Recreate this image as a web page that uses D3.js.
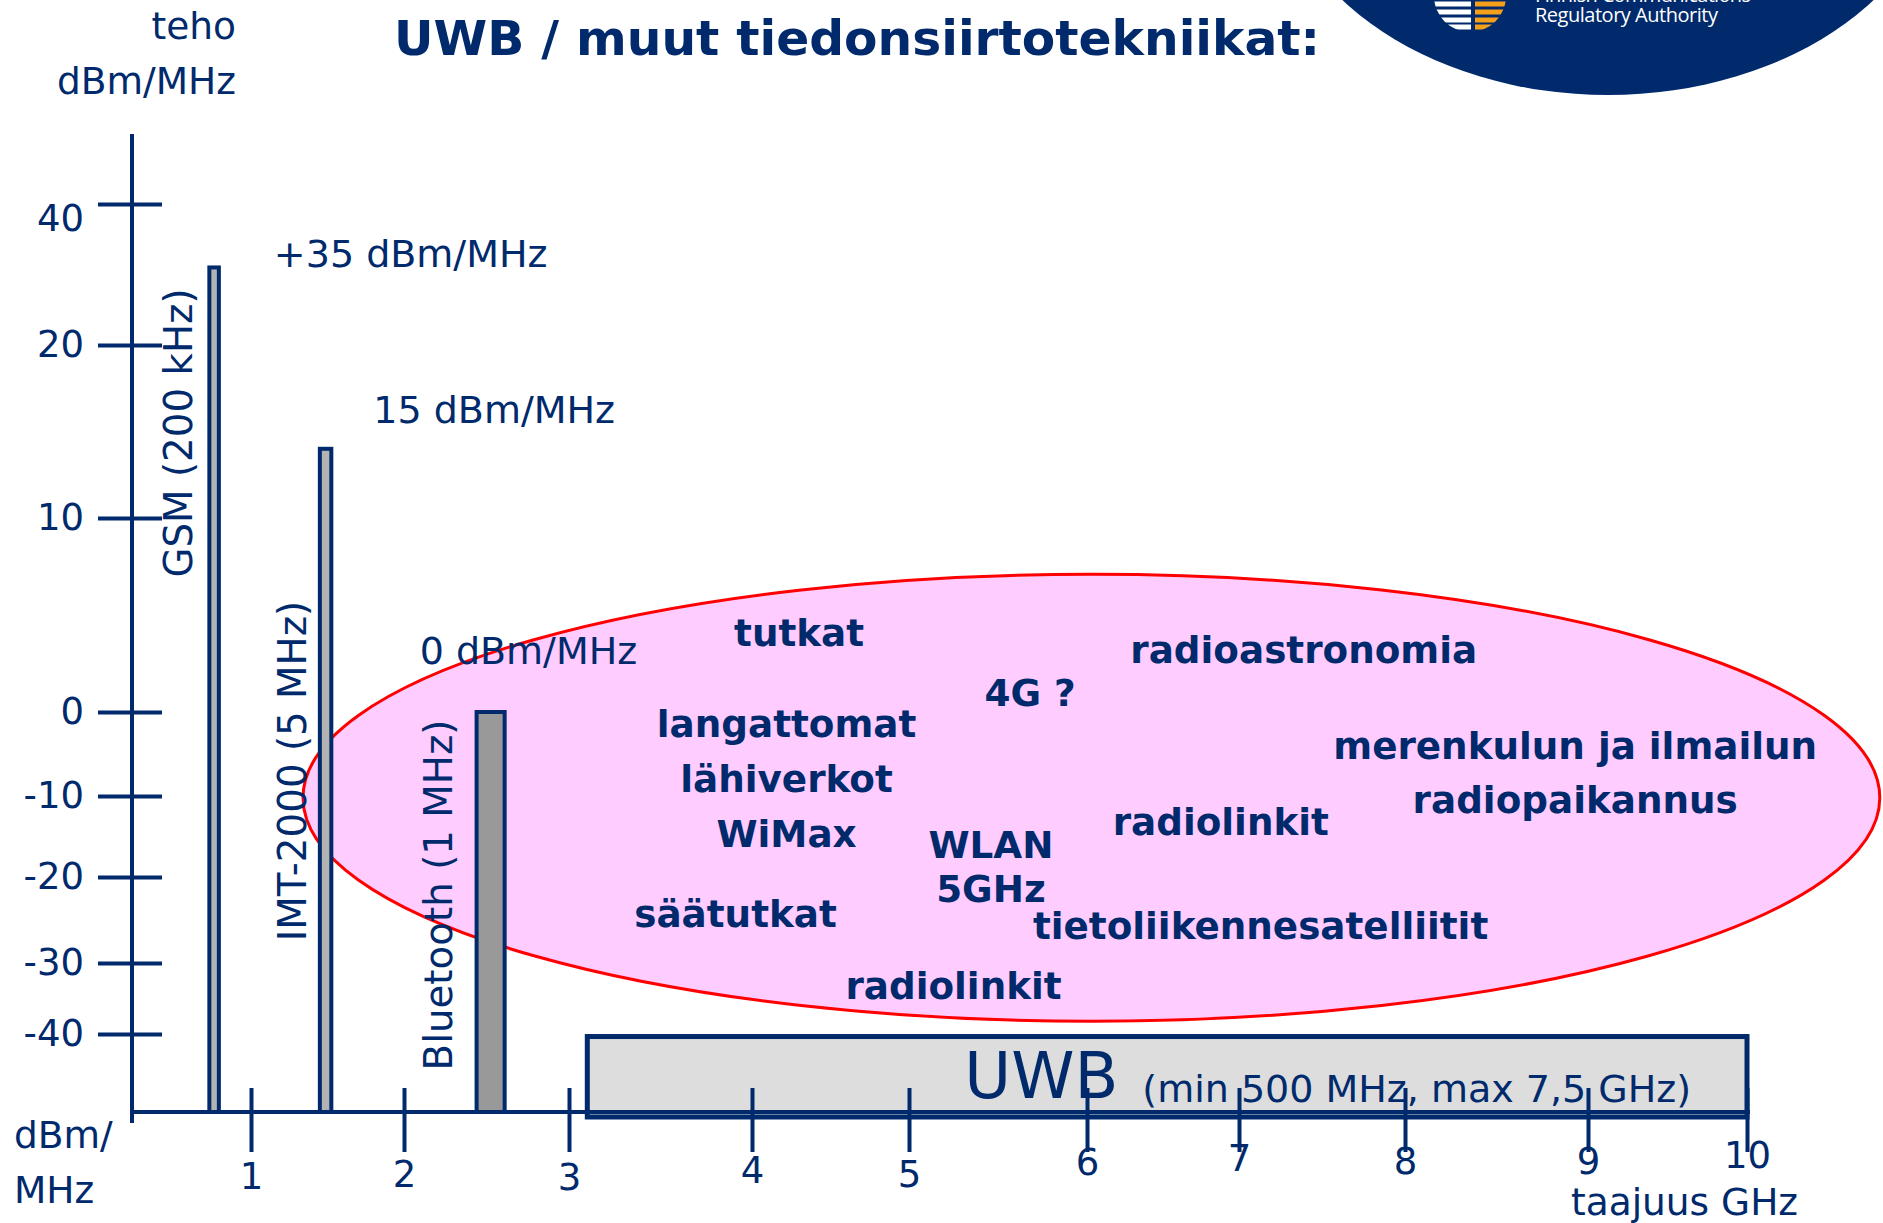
<!DOCTYPE html>
<html>
<head>
<meta charset="utf-8">
<script src="https://cdn.jsdelivr.net/npm/d3@7"></script>
<style>
  body { margin: 0; background: #fff; }
  svg { display: block; font-family: 'DejaVu Sans', Verdana, sans-serif; }
</style>
</head>
<body>
<svg id="drawing_region"></svg>
<script>
const navy = '#002a6c';

// akselit
const yTicks = [40, 20, 10, 0, -10, -20, -30, -40];
const xTicks = [1, 2, 3, 4, 5, 6, 7, 8, 9, 10];

// kapeakaistaiset järjestelmät
const bandNames = ['GSM (200 kHz)', 'IMT-2000 (5 MHz)', 'Bluetooth (1 MHz)'];
const bandLow = [0.65, 1.45, 2.44];
const bandHigh = [0.73, 1.525, 2.61];
const bandPower = [31, 14, 0];
const bandLevels = ['+35 dBm/MHz', '15 dBm/MHz', '0 dBm/MHz'];

// UWB
const uwbLow = 3.1, uwbHigh = 10, uwbPower = -41.3;

// muut käyttäjät samalla taajuusalueella
const zoneFreq = [1.34, 10.83];
const zonePower = [-38.2, 7.1];
const services = ['tutkat', 'radioastronomia', '4G ?', 'langattomat', 'lähiverkot',
    'merenkulun ja ilmailun', 'radiopaikannus', 'WiMax', 'WLAN', '5GHz', 'radiolinkit',
    'säätutkat', 'tietoliikennesatelliitit', 'radiolinkit'];
const serviceFreq = [4.30, 7.39, 5.68, 4.22, 4.22, 8.93, 8.93, 4.22, 5.46, 5.46, 6.88, 3.91, 7.13, 5.25];
const servicePower = [4.1, 3.2, 1.0, -1.4, -7.9, -4.0, -10.4, -14.6, -16.0, -21.3, -13.1, -24.3, -25.7, -33.2];

class uwbChart {

    constructor(config) {
        this.config = {
            parent: config.parent,
            width: config.width || 1883,
            height: config.height || 1223
        };
        this.init();
    }

    init() {
        let self = this;
        self.svg = d3.select(self.config.parent)
            .attr('width', self.config.width)
            .attr('height', self.config.height);

        // piirroksen asteikot eivät ole tasavälisiä
        self.xscale = d3.scaleLinear()
            .domain([0, 1, 2, 3, 4, 5, 6, 7, 8, 9, 10, 11])
            .range([132, 251, 404, 569, 752, 909, 1087, 1239, 1405, 1588, 1747, 1907]);
        self.yscale = d3.scaleLinear()
            .domain([-80, -40, -30, -20, -10, 0, 10, 20, 40, 44])
            .range([1112, 1034, 963, 877, 796, 712, 518, 345, 204, 134]);
    }

    render() {
        let self = this;
        const x = self.xscale, y = self.yscale;
        const base = y(-80);

        self.drawLogo();

        self.svg.append('text')
            .attr('x', 857).attr('y', 55)
            .attr('text-anchor', 'middle')
            .attr('font-size', 48.7).attr('font-weight', 'bold')
            .attr('fill', navy)
            .text('UWB / muut tiedonsiirtotekniikat:');

        // ellipsi
        self.svg.append('ellipse')
            .attr('cx', (x(zoneFreq[0]) + x(zoneFreq[1])) / 2)
            .attr('cy', (y(zonePower[0]) + y(zonePower[1])) / 2)
            .attr('rx', (x(zoneFreq[1]) - x(zoneFreq[0])) / 2)
            .attr('ry', (y(zonePower[0]) - y(zonePower[1])) / 2)
            .attr('fill', '#ffccff')
            .attr('stroke', '#ff0000')
            .attr('stroke-width', 3);

        self.svg.append('g').selectAll('text').data(services)
            .join('text')
            .attr('x', (d, i) => x(serviceFreq[i]))
            .attr('y', (d, i) => y(servicePower[i]))
            .attr('dy', '0.36em')
            .attr('text-anchor', 'middle')
            .attr('font-size', 37.3).attr('font-weight', 'bold')
            .attr('fill', navy)
            .text(d => d);

        // pylväät
        self.svg.append('g').selectAll('rect').data(bandNames)
            .join('rect')
            .attr('x', (d, i) => x(bandLow[i]))
            .attr('y', (d, i) => y(bandPower[i]))
            .attr('width', (d, i) => x(bandHigh[i]) - x(bandLow[i]))
            .attr('height', (d, i) => base - y(bandPower[i]))
            .attr('fill', (d, i) => i == 2 ? '#999999' : '#b3b3b3')
            .attr('stroke', navy)
            .attr('stroke-width', 4);

        const levelOffset = [[55, -14], [42, -39], [-85, -62]];
        self.svg.append('g').selectAll('text').data(bandLevels)
            .join('text')
            .attr('x', (d, i) => x(bandHigh[i]) + levelOffset[i][0])
            .attr('y', (d, i) => y(bandPower[i]) + levelOffset[i][1])
            .attr('dy', '0.36em')
            .attr('font-size', 38)
            .attr('fill', navy)
            .text(d => d);

        const nameLayout = [[-31, 433], [-28, 771], [-39, 895]];
        self.svg.append('g').selectAll('text').data(bandNames)
            .join('text')
            .attr('transform', (d, i) =>
                `translate(${x(bandLow[i]) + nameLayout[i][0]}, ${nameLayout[i][1]}) rotate(-90)`)
            .attr('dy', '0.36em')
            .attr('text-anchor', 'middle')
            .attr('font-size', 38.8)
            .attr('fill', navy)
            .text(d => d);

        // UWB-laatikko
        const bx = x(uwbLow), bw = x(uwbHigh) - x(uwbLow);
        self.svg.append('rect')
            .attr('x', bx).attr('y', y(uwbPower))
            .attr('width', bw).attr('height', base + 5 - y(uwbPower))
            .attr('fill', '#dddddd')
            .attr('stroke', navy)
            .attr('stroke-width', 5);
        const uwbText = self.svg.append('text')
            .attr('x', bx + 377).attr('y', 1098)
            .attr('fill', navy);
        uwbText.append('tspan').attr('font-size', 64).text('UWB');
        uwbText.append('tspan').attr('font-size', 38).attr('dx', 24).attr('dy', 4)
            .text('(min 500 MHz, max 7,5 GHz)');

        // akselit
        const yaxis = d3.axisLeft(y).tickValues(yTicks)
            .tickFormat(d => String(d))
            .tickSize(34).tickPadding(14);
        const yg = self.svg.append('g')
            .attr('transform', `translate(${x(0)}, 0)`)
            .call(yaxis);
        yg.select('.domain').remove();
        yg.selectAll('.tick line').attr('x1', 30).attr('stroke', navy).attr('stroke-width', 4);
        yg.selectAll('.tick text').attr('fill', navy).attr('font-size', 37)
            .attr('font-family', 'DejaVu Sans')
            .attr('y', d => d == 40 ? 15 : 0);

        // käsin piirretyt numerot nousevat hieman oikealle
        const xLabelShift = [7, 5, 8, 1, 5, -7, -11, -8, -8, -14];
        const xaxis = d3.axisBottom(x).tickValues(xTicks).tickSize(40).tickPadding(4);
        const xg = self.svg.append('g')
            .attr('transform', `translate(0, ${base})`)
            .call(xaxis);
        xg.select('.domain').remove();
        xg.selectAll('.tick line').attr('y1', -24).attr('stroke', navy).attr('stroke-width', 4);
        xg.selectAll('.tick text').attr('fill', navy).attr('font-size', 37)
            .attr('font-family', 'DejaVu Sans')
            .attr('y', (d, i) => 44 + xLabelShift[i]);

        self.svg.append('line')
            .attr('x1', x(0)).attr('x2', x(0))
            .attr('y1', y(44)).attr('y2', base + 11)
            .attr('stroke', navy).attr('stroke-width', 4);
        self.svg.append('line')
            .attr('x1', x(0)).attr('x2', x(10) + 3)
            .attr('y1', base).attr('y2', base)
            .attr('stroke', navy).attr('stroke-width', 4);

        const axisTitles = [
            { t: 'teho', x: 236, y: 25, a: 'end' },
            { t: 'dBm/MHz', x: 236, y: 80, a: 'end' },
            { t: 'dBm/', x: 14, y: 1134, a: 'start' },
            { t: 'MHz', x: 14, y: 1189, a: 'start' },
            { t: 'taajuus GHz', x: 1571, y: 1201, a: 'start' }
        ];
        self.svg.append('g').selectAll('text').data(axisTitles)
            .join('text')
            .attr('x', d => d.x).attr('y', d => d.y)
            .attr('dy', '0.36em')
            .attr('text-anchor', d => d.a)
            .attr('font-size', 37.5)
            .attr('fill', navy)
            .text(d => d.t);
    }

    drawLogo() {
        let self = this;
        const g = self.svg.append('g');
        g.append('ellipse')
            .attr('cx', 1608).attr('cy', -150)
            .attr('rx', 336).attr('ry', 245)
            .attr('fill', navy);
        g.append('clipPath').attr('id', 'globe')
            .append('circle').attr('cx', 1470).attr('cy', -4).attr('r', 36);
        const stripes = [-4, 4, 12, 20, 27];
        const gg = g.append('g').attr('clip-path', 'url(#globe)');
        gg.selectAll('rect.w').data(stripes).join('rect')
            .attr('x', 1430).attr('y', d => d - 2.5)
            .attr('width', 41).attr('height', 5)
            .attr('fill', '#ffffff');
        gg.selectAll('rect.o').data(stripes).join('rect')
            .attr('x', 1475).attr('y', d => d - 2.5)
            .attr('width', 40).attr('height', 5)
            .attr('fill', '#f5a01a');
        g.append('text')
            .attr('x', 1535).attr('y', 2)
            .attr('font-family', 'Open Sans').attr('font-size', 20)
            .attr('textLength', 216)
            .attr('fill', '#ffffff')
            .text('Finnish Communications');
        g.append('text')
            .attr('x', 1535).attr('y', 22)
            .attr('font-family', 'Open Sans').attr('font-size', 20)
            .attr('textLength', 183)
            .attr('fill', '#ffffff')
            .text('Regulatory Authority');
    }

}

const chart = new uwbChart({ parent: '#drawing_region', width: 1883, height: 1223 });
chart.render();
</script>
</body>
</html>
